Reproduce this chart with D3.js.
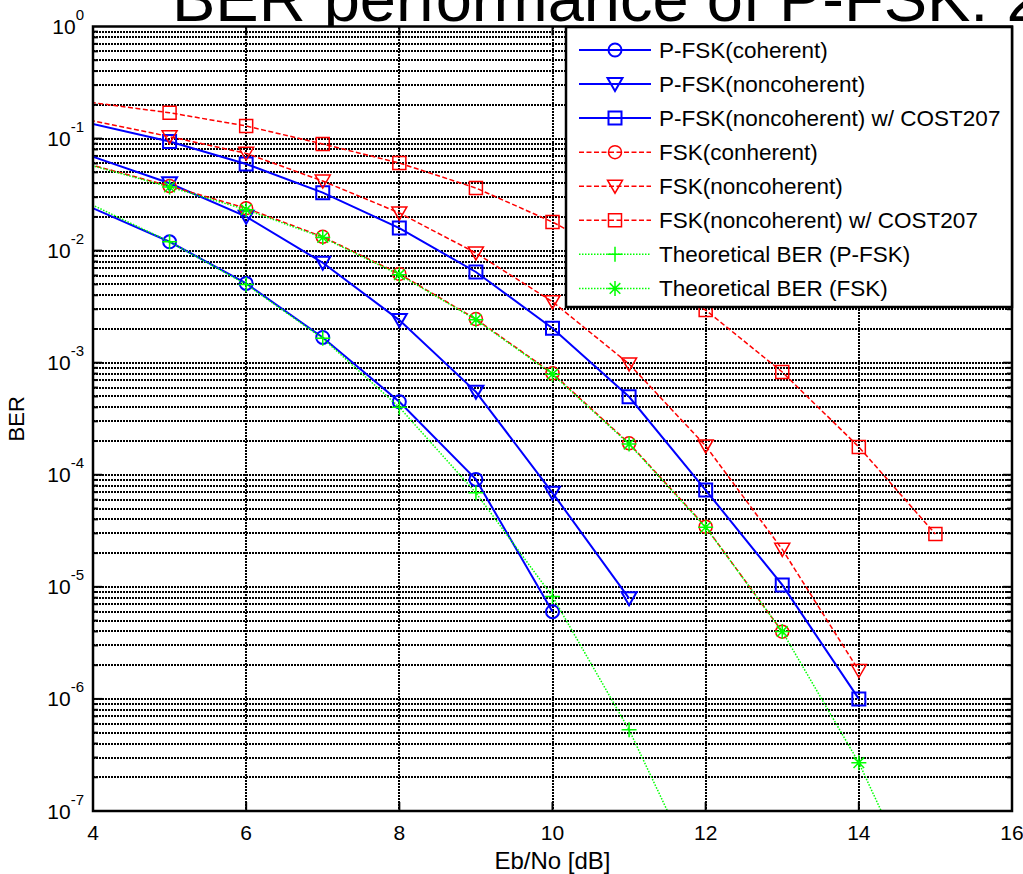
<!DOCTYPE html>
<html>
<head>
<meta charset="utf-8">
<script src="https://cdn.jsdelivr.net/npm/d3@7"></script>
<style>
  body { margin: 0; background: #fff; }
  svg text { font-family: "Liberation Sans", Arial, sans-serif; fill: #000; }
</style>
</head>
<body>
<div id="chart"></div>
<script>
// Eb/No points (dB). 3 dB lies left of the visible axis, lines get clipped there
var ebno = [3, 5, 6, 7, 8, 9, 10, 11, 12, 13, 14, 15];

// BER values, aligned with ebno
var pfskCoherent      = [0.0476, 0.0120, 0.0051, 0.00168, 4.49e-4, 9.1e-5, 6.0e-6];
var pfskNoncoherent   = [0.119, 0.0399, 0.0201, 0.0078, 0.0024, 5.5e-4, 6.9e-5, 7.9e-6];
var pfskCost207       = [0.194, 0.094, 0.0593, 0.0329, 0.0159, 0.00645, 0.00203, 4.97e-4, 7.3e-5, 1.04e-5, 1.0e-6];
var fskCoherent       = [0.0883, 0.0377, 0.0239, 0.0133, 0.0062, 0.00245, 8.04e-4, 1.91e-4, 3.44e-5, 3.98e-6];
var fskNoncoherent    = [0.199, 0.104, 0.0738, 0.0418, 0.0217, 0.00953, 0.0035, 9.75e-4, 1.81e-4, 2.16e-5, 1.79e-6];
var fskCost207        = [0.257, 0.170, 0.1295, 0.0895, 0.0605, 0.0362, 0.0180, 0.0078, 0.00295, 8.26e-4, 1.77e-4, 2.96e-5];
var theoryPfsk        = [0.0538, 0.0120, 0.0050, 0.00165, 4.0e-4, 6.9e-5, 8.2e-6, 5.3e-7, 1.9e-8];
var theoryFsk         = [0.088, 0.0370, 0.0232, 0.0131, 0.0061, 0.00242, 7.9e-4, 1.88e-4, 3.4e-5, 4.0e-6, 2.7e-7, 9e-9];

var seriesNames = ["P-FSK(coherent)", "P-FSK(noncoherent)", "P-FSK(noncoherent) w/ COST207",
                   "FSK(conherent)", "FSK(noncoherent)", "FSK(noncoherent) w/ COST207",
                   "Theoretical BER (P-FSK)", "Theoretical BER (FSK)"];

var xTicks = [4, 6, 8, 10, 12, 14, 16];
var yExponents = [0, -1, -2, -3, -4, -5, -6, -7];

var titleText = "BER performance of P-FSK: 2";

var series = [
  {name: seriesNames[0], values: pfskCoherent,    color: "#0000ff", dash: null,    width: 2,   marker: "circle"},
  {name: seriesNames[1], values: pfskNoncoherent, color: "#0000ff", dash: null,    width: 2,   marker: "tri"},
  {name: seriesNames[2], values: pfskCost207,     color: "#0000ff", dash: null,    width: 2,   marker: "square"},
  {name: seriesNames[3], values: fskCoherent,     color: "#ff0000", dash: "5,2.5", width: 1.5, marker: "circle"},
  {name: seriesNames[4], values: fskNoncoherent,  color: "#ff0000", dash: "5,2.5", width: 1.5, marker: "tri"},
  {name: seriesNames[5], values: fskCost207,      color: "#ff0000", dash: "5,2.5", width: 1.5, marker: "square"},
  {name: seriesNames[6], values: theoryPfsk,      color: "#00ff00", dash: "1.5,1.5", width: 1.5, marker: "plus"},
  {name: seriesNames[7], values: theoryFsk,       color: "#00ff00", dash: "1.5,1.5", width: 1.5, marker: "star"}
];

var W = 1023, H = 874;
var plot = {left: 93, right: 1012, top: 26.5, bottom: 811};

var svg = d3.select("#chart")
  .append("svg")
    .attr("width", W)
    .attr("height", H);

var x = d3.scaleLinear().domain([4, 16]).range([plot.left, plot.right]);
var y = d3.scaleLog().domain([1e-7, 1]).range([plot.bottom, plot.top]);

// title (runs off the top and right of the figure, as in the original)
svg.append("text")
  .attr("x", 172)
  .attr("y", 21)
  .style("font-size", "65px")
  .text(titleText);

// white axes background
svg.append("rect")
  .attr("x", plot.left).attr("y", plot.top)
  .attr("width", plot.right - plot.left).attr("height", plot.bottom - plot.top)
  .attr("fill", "#fff");

// grid: major x, major + minor y (log)
var yGridVals = [];
yExponents.forEach(function(e) {
  if (e === -7) return;
  for (var k = 1; k <= 9; k++) yGridVals.push(k * Math.pow(10, e - 1));
});
yGridVals = yGridVals.filter(function(v) { return v > 1e-7 && v < 1; });

var grid = svg.append("g")
  .attr("stroke", "#000")
  .attr("stroke-width", 2)
  .attr("stroke-dasharray", "2,1")
  .attr("shape-rendering", "crispEdges");
grid.selectAll("line.gy")
  .data(yGridVals)
  .enter().append("line")
    .attr("x1", plot.left).attr("x2", plot.right)
    .attr("y1", function(d) { return Math.round(y(d)); })
    .attr("y2", function(d) { return Math.round(y(d)); });
grid.selectAll("line.gx")
  .data(xTicks.slice(1, -1))
  .enter().append("line")
    .attr("y1", plot.top).attr("y2", plot.bottom)
    .attr("x1", function(d) { return Math.round(x(d)); })
    .attr("x2", function(d) { return Math.round(x(d)); });

// tick marks (inside, all four sides)
var ticks = svg.append("g").attr("stroke", "#000").attr("stroke-width", 2);
xTicks.forEach(function(t) {
  ticks.append("line").attr("x1", x(t)).attr("x2", x(t)).attr("y1", plot.bottom).attr("y2", plot.bottom - 9);
  ticks.append("line").attr("x1", x(t)).attr("x2", x(t)).attr("y1", plot.top).attr("y2", plot.top + 9);
});
yGridVals.concat([1e-7]).forEach(function(v) {
  var major = Math.abs(Math.log10(v) - Math.round(Math.log10(v))) < 1e-9;
  var len = major ? 9 : 5;
  ticks.append("line").attr("x1", plot.left).attr("x2", plot.left + len).attr("y1", y(v)).attr("y2", y(v));
  ticks.append("line").attr("x1", plot.right).attr("x2", plot.right - len).attr("y1", y(v)).attr("y2", y(v));
});

// clip for data lines
svg.append("clipPath").attr("id", "clip")
  .append("rect")
    .attr("x", plot.left).attr("y", plot.top)
    .attr("width", plot.right - plot.left).attr("height", plot.bottom - plot.top);

function markerPath(type) {
  var p = d3.path();
  if (type === "circle") {
    p.moveTo(6.5, 0); p.arc(0, 0, 6.5, 0, 2 * Math.PI);
  } else if (type === "tri") {
    p.moveTo(-7.5, -6); p.lineTo(7.5, -6); p.lineTo(0, 7); p.closePath();
  } else if (type === "square") {
    p.rect(-6.5, -6.5, 13, 13);
  } else if (type === "plus") {
    p.moveTo(-7.5, 0); p.lineTo(7.5, 0); p.moveTo(0, -7.5); p.lineTo(0, 7.5);
  } else if (type === "star") {
    p.moveTo(-7.5, 0); p.lineTo(7.5, 0); p.moveTo(0, -7.5); p.lineTo(0, 7.5);
    p.moveTo(-5.3, -5.3); p.lineTo(5.3, 5.3); p.moveTo(-5.3, 5.3); p.lineTo(5.3, -5.3);
  }
  return p.toString();
}

var line = d3.line()
  .x(function(d) { return x(d.x); })
  .y(function(d) { return y(d.y); });

var dataG = svg.append("g");
series.forEach(function(s) {
  var pts = s.values.map(function(v, i) { return {x: ebno[i], y: v}; });
  dataG.append("path")
    .datum(pts)
    .attr("clip-path", "url(#clip)")
    .attr("fill", "none")
    .attr("stroke", s.color)
    .attr("stroke-width", s.width)
    .attr("stroke-dasharray", s.dash)
    .attr("d", line);
  dataG.selectAll(null)
    .data(pts.filter(function(d) { return d.x >= 4 && d.y >= 1e-7; }))
    .enter().append("path")
      .attr("transform", function(d) { return "translate(" + x(d.x) + "," + y(d.y) + ")"; })
      .attr("d", markerPath(s.marker))
      .attr("fill", "none")
      .attr("stroke", s.color)
      .attr("stroke-width", s.width);
});

// axes box
svg.append("rect")
  .attr("x", plot.left).attr("y", plot.top)
  .attr("width", plot.right - plot.left).attr("height", plot.bottom - plot.top)
  .attr("fill", "none").attr("stroke", "#000").attr("stroke-width", 2.5);

// x tick labels
svg.selectAll("text.xt")
  .data(xTicks)
  .enter().append("text")
    .attr("x", function(d) { return x(d); })
    .attr("y", 840)
    .attr("text-anchor", "middle")
    .style("font-size", "21px")
    .text(function(d) { return d; });

// y tick labels 10^e
yExponents.forEach(function(e) {
  var t = svg.append("text")
    .attr("x", 84)
    .attr("y", y(Math.pow(10, e)) + 7.5)
    .attr("text-anchor", "end")
    .style("font-size", "21px");
  t.append("tspan").text("10");
  t.append("tspan").attr("dy", -14).style("font-size", "15px").text(e);
});

// axis labels
svg.append("text")
  .attr("x", x(10))
  .attr("y", 869)
  .attr("text-anchor", "middle")
  .style("font-size", "24px")
  .text("Eb/No [dB]");
svg.append("text")
  .attr("transform", "translate(24," + ((plot.top + plot.bottom) / 2) + ") rotate(-90)")
  .attr("text-anchor", "middle")
  .style("font-size", "22px")
  .text("BER");

// legend
var lg = {left: 566, top: 27, right: plot.right, bottom: 307, row0: 50, rowH: 34.06};
var legend = svg.append("g");
legend.append("rect")
  .attr("x", lg.left).attr("y", lg.top)
  .attr("width", lg.right - lg.left).attr("height", lg.bottom - lg.top)
  .attr("fill", "#fff").attr("stroke", "#000").attr("stroke-width", 2.5);
series.forEach(function(s, i) {
  var cy = lg.row0 + i * lg.rowH;
  legend.append("line")
    .attr("x1", 579).attr("x2", 651).attr("y1", cy).attr("y2", cy)
    .attr("stroke", s.color).attr("stroke-width", s.width)
    .attr("stroke-dasharray", s.dash);
  legend.append("path")
    .attr("transform", "translate(615," + cy + ")")
    .attr("d", markerPath(s.marker))
    .attr("fill", "none").attr("stroke", s.color).attr("stroke-width", s.width);
  legend.append("text")
    .attr("x", 659).attr("y", cy + 8)
    .style("font-size", "22.5px")
    .text(s.name);
});
</script>
</body>
</html>
